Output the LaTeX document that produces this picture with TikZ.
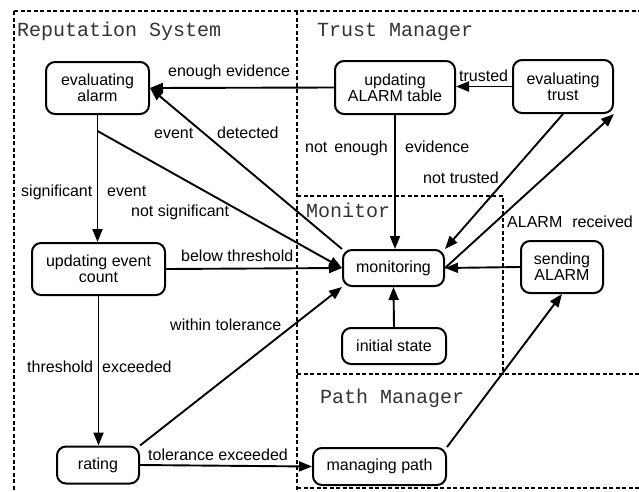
\documentclass[tikz,border=0pt]{standalone}
\usepackage{fontspec}
\setmainfont{Liberation Sans}
\newfontfamily\headfont{Liberation Mono}
\usetikzlibrary{arrows.meta,calc}
\begin{document}
\begin{tikzpicture}[x=1pt,y=-1pt,
  state/.style={draw,line width=2pt,rounded corners=9pt,align=center,inner sep=0pt,
    font=\fontsize{16}{16}\selectfont},
  trans/.style={line width=1.9pt,-{Triangle[length=13pt,width=10pt]}},
  lbl/.style={inner sep=0pt,anchor=base west,font=\fontsize{16}{16}\selectfont},
  zone/.style={line width=2pt,dash pattern=on 4pt off 2.5pt},
  zonetitle/.style={inner sep=0pt,anchor=base west,text=black!80,
    font=\headfont\fontsize{20}{20}\selectfont}]
\useasboundingbox (0,0) rectangle (639,491);

% subsystem boundaries
\draw[zone] (14,11) -- (639,11);
\draw[zone] (14,11) -- (14,491);
\draw[zone] (297,11) -- (297,491);
\draw[zone] (297,196) -- (503,196) -- (503,374);
\draw[zone] (297,374) -- (639,374);
\draw[zone] (297,488) -- (639,488);

% subsystem titles
\node[zonetitle] (tRep) at (17,36) {Reputation System};
\node[zonetitle] (tTrust) at (317,36) {Trust Manager};
\node[zonetitle] (tMon) at (306,217) {Monitor};
\node[zonetitle] (tPath) at (320,403) {Path Manager};

% states
\node[state,minimum width=103pt,minimum height=52pt] (evA) at (97.5,88) {evaluating\\alarm};
\node[state,minimum width=120pt,minimum height=53pt] (upd) at (395,87.5) {updating\\ALARM table};
\node[state,minimum width=100pt,minimum height=53pt] (evT) at (563,86.5) {evaluating\\trust};
\node[state,minimum width=133pt,minimum height=52pt] (uec) at (98.5,269) {updating event\\count};
\node[state,minimum width=101pt,minimum height=36pt] (mon) at (393.5,268) {monitoring};
\node[state,minimum width=82pt,minimum height=52pt] (sA) at (562,267) {sending\\ALARM};
\node[state,minimum width=104pt,minimum height=36pt] (init) at (394,346) {initial state};
\node[state,minimum width=82pt,minimum height=37pt] (rat) at (98,465) {rating};
\node[state,minimum width=133pt,minimum height=37pt] (mp) at (379.5,466.5) {managing path};

% transitions
\coordinate (fork) at ($(evA.south)+(0,16)$);
\draw[trans] (upd.west) -- (evA.east);
\draw[trans] (evT.west) -- (evT.west -| upd.east);
\draw[trans] (upd.south) -- (upd.south |- mon.north);
\draw[trans] (evT.south) -- (mon.north east);
\draw[trans] (mon.east) -- (evT.south east);
\draw[trans] (mon.north west) -- (evA.east);
\draw[trans] (fork) -- (mon.west);
\draw[trans] (evA.south) -- (evA.south |- uec.north);
\draw[trans] (uec.east) -- (mon.west);
\draw[trans] (uec.south) -- (uec.south |- rat.north);
\draw[trans] (rat.north east) -- (mon.south west);
\draw[trans] (rat.east) -- (mp.west);
\draw[trans] (mp.north east) -- (sA.south);
\draw[trans] (sA.west) -- (mon.east);
\draw[trans] (init.north) -- (mon.south);

% transition labels
\node[lbl] (lEnough) at (168,76) {enough evidence};
\node[lbl] (lTrusted) at (459,81) {trusted};
\node[lbl] (lEvent) at (154,138) {event};
\node[lbl] (lDetected) at (217,138) {detected};
\node[lbl] (lNotEnough) at (305,152) {not\hspace{7pt}enough};
\node[lbl] (lEvidence) at (405,152) {evidence};
\node[lbl] (lNotTrusted) at (423,183) {not trusted};
\node[lbl] (lReceived) at (507,227) {ALARM\hspace{10pt}received};
\node[lbl] (lSignif) at (21,196) {significant};
\node[lbl] (lSigEvent) at (107,196) {event};
\node[lbl] (lNotSig) at (131,216) {not significant};
\node[lbl] (lBelow) at (181,261) {below threshold};
\node[lbl] (lWithin) at (170,330) {within tolerance};
\node[lbl] (lThresh) at (27,372) {threshold};
\node[lbl] (lExceeded) at (102,372) {exceeded};
\node[lbl] (lTolExc) at (148,460) {tolerance exceeded};
\end{tikzpicture}
\end{document}
